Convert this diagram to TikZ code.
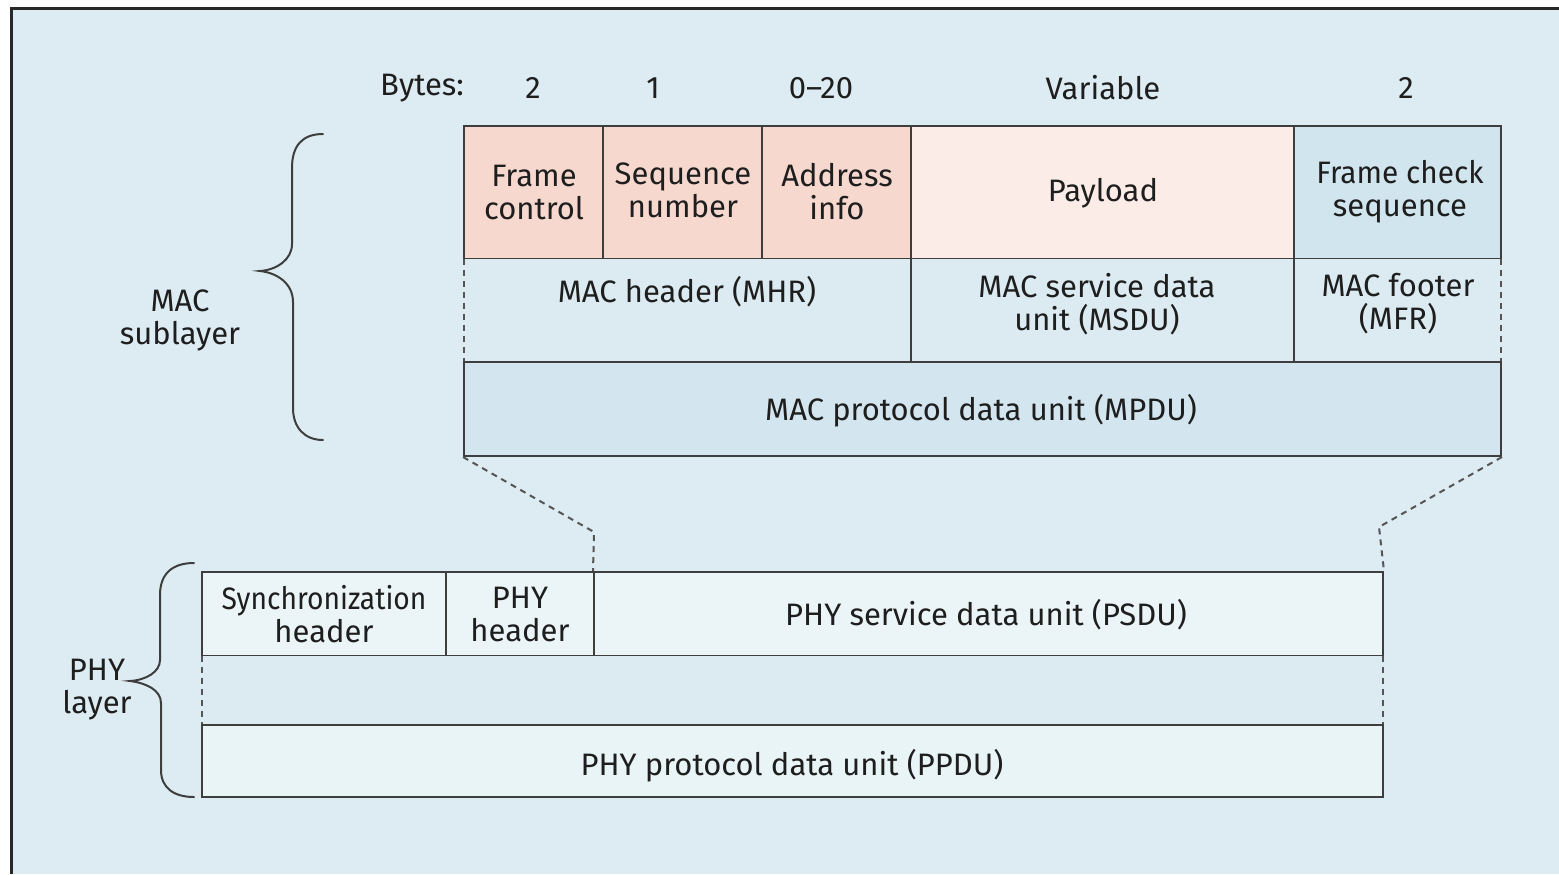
\documentclass[tikz,border=0pt]{standalone}
\usepackage{fontspec}
\setmainfont{Fira Sans}
\usetikzlibrary{fit}

\definecolor{bgc}{RGB}{221,236,243}
\definecolor{framec}{RGB}{40,40,40}
\definecolor{linec}{RGB}{62,62,62}
\definecolor{dashc}{RGB}{85,85,85}
\definecolor{pinkc}{RGB}{247,216,207}
\definecolor{payc}{RGB}{252,236,232}
\definecolor{fcsc}{RGB}{209,229,238}
\definecolor{hdrc}{RGB}{220,235,242}
\definecolor{mpduc}{RGB}{211,230,239}
\definecolor{phyc}{RGB}{235,244,247}
\definecolor{ppduc}{RGB}{233,244,246}
\definecolor{txtc}{RGB}{30,30,30}

\begin{document}
\begin{tikzpicture}[x=0.5pt,y=-0.5pt,
  txt/.style={inner sep=0pt, align=center, text=txtc,
    font=\fontsize{15.5}{16.5}\selectfont},
  cell/.style={inner sep=0pt, fill=#1},
  box/.style={inner sep=0pt, fill=#1, draw=linec, line width=1pt},
  rule/.style={draw=linec, line width=1pt},
  dashrule/.style={draw=dashc, line width=1pt, dash pattern=on 3pt off 2.5pt},
  bracec/.style={draw=linec, line width=1pt, line cap=round}]

\useasboundingbox (0,0) rectangle (1559,874);

% panel background with its top and left border
\fill[white] (0,0) rectangle (1559,874);
\fill[bgc] (11,8) rectangle (1559,874);
\draw[framec, line width=1.5pt] (11,874) -- (11,8) -- (1559,8);

% byte counts
\node[txt] (bytes) at (422,88) {Bytes:};
\node[txt] (b1) at (533,88) {2};
\node[txt] (b2) at (653,88) {1};
\node[txt] (b3) at (821,88) {0--20};
\node[txt] (b4) at (1103,88) {Variable};
\node[txt] (b5) at (1406,88) {2};

% MAC frame fields
\node[box=pinkc, fit={(464,126)(603,259)}] (fc) {};
\node[box=pinkc, fit={(603,126)(762,259)}] (sn) {};
\node[box=pinkc, fit={(762,126)(911,259)}] (ai) {};
\node[box=payc, fit={(911,126)(1294,259)}] (pl) {};
\node[box=fcsc, fit={(1294,126)(1501,259)}] (fcs) {};
\node[txt] (fct) at (534,192) {Frame\\control};
\node[txt] (snt) at (683,190) {Sequence\\number};
\node[txt] (ait) at (837,192) {Address\\info};
\node[txt] (plt) at (1103,193) {Payload};
\node[txt] (fcst) at (1400,192) {\scalebox{0.96}[1]{Frame check}\\sequence};

% MAC header / MSDU / footer row
\node[cell=hdrc, fit={(464,259)(911,362)}] (mhr) {};
\node[cell=hdrc, fit={(911,259)(1294,362)}] (msdu) {};
\node[cell=hdrc, fit={(1294,259)(1501,362)}] (mfr) {};
\node[txt] (mhrt) at (687,292) {MAC header (MHR)};
\node[txt] (msdut) at (1097,304) {MAC service data\\unit (MSDU)};
\node[txt] (mfrt) at (1398,304) {MAC footer\\(MFR)};
\draw[rule] (mhr.north east) -- (mhr.south east);
\draw[rule] (msdu.north east) -- (msdu.south east);
\draw[dashrule] (mhr.north west) -- (mhr.south west);
\draw[dashrule] (mfr.north east) -- (mfr.south east);

% MPDU
\node[box=mpduc, fit={(464,362)(1501,456)}] (mpdu) {};
\node[txt] (mpdut) at (981,411) {MAC protocol data unit (MPDU)};

% PHY frame fields
\node[box=phyc, fit={(202,572)(446,656)}] (sync) {};
\node[box=phyc, fit={(446,572)(594,656)}] (phyh) {};
\node[box=phyc, fit={(594,572)(1383,656)}] (psdu) {};
\node[txt] (synct) at (324,614) {\scalebox{0.91}[1]{Synchronization}\\header};
\node[txt] (phyht) at (520,614) {PHY\\header};
\node[txt] (psdut) at (986,615) {PHY service data unit (PSDU)};

% gap row and PPDU
\node[cell=hdrc, fit={(202,656)(1383,725)}] (gap) {};
\draw[dashrule] (gap.north west) -- (gap.south west);
\draw[dashrule] (gap.north east) -- (gap.south east);
\node[box=ppduc, fit={(202,725)(1383,797)}] (ppdu) {};
\node[txt] (ppdut) at (792,766) {PHY protocol data unit (PPDU)};

% MPDU carried in the PSDU
\coordinate (kl) at (594,532);
\coordinate (kr) at (1379,527);
\draw[dashrule] (mpdu.south west) -- (kl) -- (psdu.north west);
\draw[dashrule] (mpdu.south east) -- (kr) -- (psdu.north east);

% braces and layer names
\coordinate (mbt) at (323,134);
\coordinate (mtip) at (260,271);
\coordinate (mbb) at (323,440);
\draw[bracec] (mbt) .. controls (302,134) and (292,146) .. (292,168)
  -- (292,244) .. controls (292,260) and (276,270) .. (mtip)
  .. controls (278,273) and (293,284) .. (293,302)
  -- (293,408) .. controls (293,428) and (305,440) .. (mbb);
\node[txt] (macl) at (180,320) {MAC\\sublayer};

\coordinate (pbt) at (194,563);
\coordinate (ptip) at (130,681);
\coordinate (pbb) at (194,797);
\draw[bracec] (pbt) .. controls (172,563) and (160,574) .. (160,595)
  -- (160,660) .. controls (160,672) and (146,680) .. (ptip)
  .. controls (146,683) and (161,690) .. (161,703)
  -- (161,770) .. controls (161,788) and (174,797) .. (pbb);
\node[txt] (phyl) at (97,690) {PHY\\layer};
\end{tikzpicture}
\end{document}
